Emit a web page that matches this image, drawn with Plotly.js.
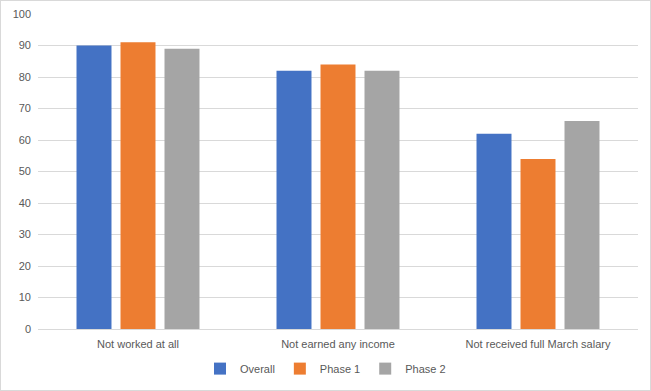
<!DOCTYPE html>
<html><head><meta charset="utf-8">
<script src="https://cdn.plot.ly/plotly-3.0.1.min.js"></script>
<style>html,body{margin:0;padding:0;background:#fff}#c{width:651px;height:391px;box-sizing:border-box;border:1px solid #d9d9d9}</style>
</head><body><div id="c"></div>
<script>
const categories = ["Not worked at all", "Not earned any income", "Not received full March salary"];
const overall = [90, 82, 62];
const phase1 = [91, 84, 54];
const phase2 = [89, 82, 66];
const seriesNames = ["Overall", "Phase 1", "Phase 2"];
const colors = ["#4472c4", "#ed7d31", "#a5a5a5"];
const series = [overall, phase1, phase2];
const data = series.map((v, i) => ({type: "bar", x: categories, y: v, name: seriesNames[i], marker: {color: colors[i]}}));
const layout = {
  width: 649, height: 389,
  margin: {l: 37, r: 12, t: 13, b: 61, autoexpand: false},
  paper_bgcolor: "#fff", plot_bgcolor: "#fff",
  font: {family: "Liberation Sans, Arial, sans-serif", size: 11, color: "#595959"},
  barmode: "group", bargap: 0.34, bargroupgap: 0.205,
  showlegend: true,
  legend: {orientation: "h", x: 0.5, xanchor: "center", xref: "container", yref: "container", y: 0.055, yanchor: "middle", font: {size: 11, color: "#595959"}, itemwidth: 30, traceorder: "normal"},
  xaxis: {showgrid: false, showline: true, linecolor: "#d9d9d9", ticks: "", ticklabelstandoff: 5, tickfont: {size: 11, color: "#595959"}, automargin: false},
  yaxis: {range: [0, 100], dtick: 10, showgrid: true, gridcolor: "#d9d9d9", zeroline: false, showline: false, ticks: "", ticklabelstandoff: 6, tickfont: {size: 11, color: "#595959"}, automargin: false}
};
Plotly.newPlot("c", data, layout, {displayModeBar: false, staticPlot: true});
</script></body></html>
